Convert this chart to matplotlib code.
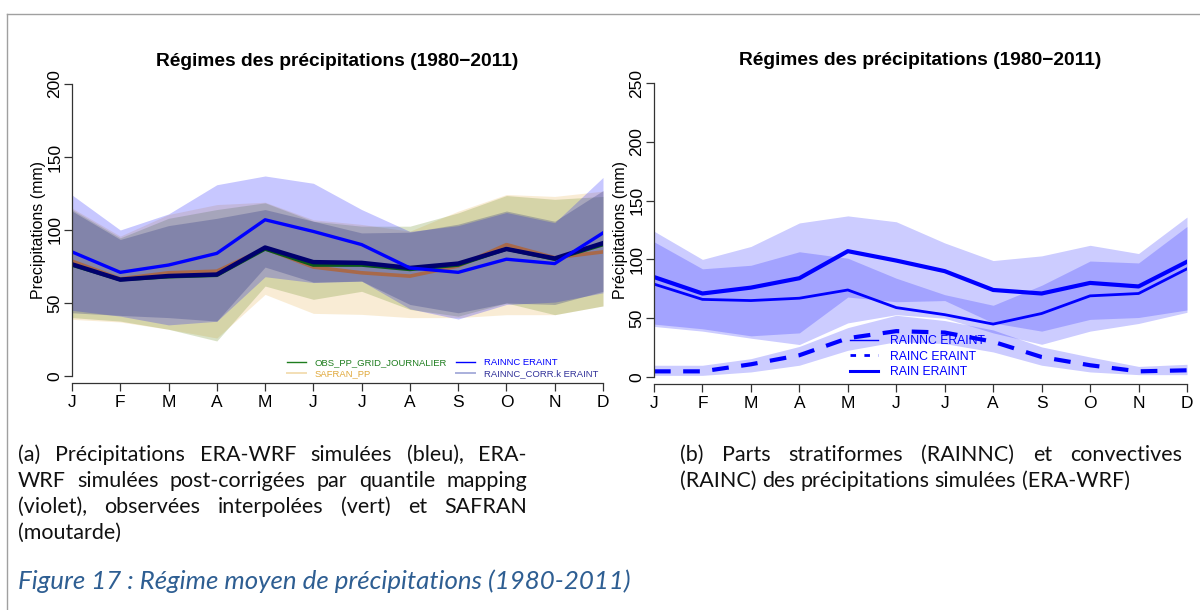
import numpy as np
import matplotlib
matplotlib.use("Agg")
import matplotlib.pyplot as plt
from matplotlib.lines import Line2D

months = ["J", "F", "M", "A", "M", "J", "J", "A", "S", "O", "N", "D"]

# left panel: monthly means and envelopes (mm)
rain_mean = [85, 71, 76, 84, 107, 99, 90, 74, 71, 80, 77, 98]
rain_low = [45, 41, 35, 37.5, 68, 64, 65, 46, 39, 49, 50.6, 57]
rain_high = [124, 100, 111, 131, 137, 132, 114, 99, 103, 112, 105, 136]

corr_mean = [76.5, 66, 68.5, 69.5, 88, 78, 77.5, 74, 77, 87, 80.5, 91]
corr_low = [43.3, 41.5, 40, 37.6, 74.6, 64.3, 65, 49, 43.3, 50, 49, 58]
corr_high = [113, 93.5, 103, 108, 114, 106, 98, 98.5, 104, 113, 106, 127]

obs_mean = [76, 66, 68, 69, 87, 76, 76, 73, 76, 87, 80, 90]
obs_low = [40, 37.6, 32, 24, 61.6, 52.5, 58, 45.6, 41, 50, 42, 48]
obs_high = [114, 94.6, 108, 114, 118.6, 106, 102.6, 102.6, 111.7, 123.6, 121, 123]

safran_mean = [78.7, 66.6, 70.7, 71.8, 87.3, 74.6, 70.7, 68.4, 75.3, 90, 81, 85]
safran_low = [38.8, 37, 32, 26, 55.9, 42.9, 42.2, 40, 40, 42, 42, 48]
safran_high = [115, 95.8, 110.6, 117.4, 119, 107, 103.8, 99.2, 112.9, 124.3, 123, 126.6]

# right panel: stratiform / convective parts
rainnc_mean = [79, 66, 65, 67, 74, 59, 53, 45, 54, 69, 71, 92]
rainnc_low = [43, 39, 33, 27.6, 46, 53, 50, 37.5, 27.8, 39, 45.5, 55]
rainnc_high = [115, 92, 95, 106.5, 101, 84, 70, 61, 78, 98.6, 97, 128]

rainc_mean = [4.8, 4.8, 10.8, 18.5, 33, 39, 37.8, 30, 17, 10, 4.8, 5.7]
rainc_low = [1.4, 1.4, 4.3, 10, 22.7, 30, 28.4, 21.3, 10, 4.3, 2, 2]
rainc_high = [10, 10, 15.6, 26, 42, 52.5, 48, 40, 25.6, 17, 9, 10.8]

W, H = 1200, 610
fig = plt.figure(figsize=(W / 100, H / 100), dpi=100)
plot_font = "Liberation Sans"


def px_axes(x0, x1, ytop, ybot):
    return fig.add_axes([x0 / W, (H - ybot) / H, (x1 - x0) / W, (ybot - ytop) / H])


def r_style(ax, ymax, step, ylabel):
    x = np.arange(12)
    ax.set_xlim(0, 11)
    ax.set_ylim(0, ymax)
    for s in ["top", "right"]:
        ax.spines[s].set_visible(False)
    ax.spines["bottom"].set_position(("outward", 5))
    ax.spines["left"].set_bounds(0, ymax)
    ax.spines["bottom"].set_bounds(0, 11)
    for s in ["left", "bottom"]:
        ax.spines[s].set_color("#333333")
        ax.spines[s].set_linewidth(0.9)
    ax.set_xticks(x)
    ax.set_xticklabels(months, fontfamily=plot_font, fontsize=12.5)
    ax.set_yticks(np.arange(0, ymax + 1, step))
    ax.set_yticklabels([str(v) for v in np.arange(0, ymax + 1, step)],
                       rotation=90, va="center", fontfamily=plot_font, fontsize=12.5)
    ax.tick_params(length=5.5, width=0.9, color="#333333", pad=1.5)
    ax.tick_params(axis="x", pad=3)
    ax.set_ylabel(ylabel, fontfamily=plot_font, fontsize=11.5, labelpad=1)
    ax.set_title("Régimes des précipitations (1980\u22122011)", fontfamily=plot_font,
                 fontweight="bold", fontsize=13.8, pad=13)
    ax.patch.set_visible(False)


x = np.arange(12)

# ---- left panel
ax1 = px_axes(72, 603, 84, 376)
r_style(ax1, 200, 50, "Precipitations (mm)")
ax1.fill_between(x, safran_low, safran_high, color="#f5deb3", alpha=0.55, lw=0)
ax1.fill_between(x, obs_low, obs_high, color="#6b8e23", alpha=0.25, lw=0)
ax1.fill_between(x, rain_low, rain_high, color="#0000ff", alpha=0.22, lw=0)
ax1.fill_between(x, corr_low, corr_high, color="#283080", alpha=0.28, lw=0)
ax1.plot(x, safran_mean, color="#a8694a", lw=2.6)
ax1.plot(x, obs_mean, color="#0a5a1a", lw=2.6)
ax1.plot(x, corr_mean, color="#00006e", lw=3.2)
ax1.plot(x, rain_mean, color="#0000ff", lw=2.4)

h1 = [Line2D([], [], color="#1e7d1e", lw=1),
      Line2D([], [], color="#f3dfb5", lw=1.4),
      Line2D([], [], color="#0000ff", lw=1),
      Line2D([], [], color="#aab0dc", lw=1.4)]
lab1 = ["OBS_PP_GRID_JOURNALIER", "SAFRAN_PP", "RAINNC ERAINT", "RAINNC_CORR.k ERAINT"]
leg1 = fig.legend(h1, lab1, ncol=2, loc="upper left", bbox_to_anchor=(287 / W, (H - 358) / H),
                  frameon=False, borderpad=0, borderaxespad=0, handlelength=2.0,
                  handletextpad=0.9, columnspacing=1.0, labelspacing=0.25,
                  prop={"family": plot_font, "size": 6.8},
                  labelcolor=["#1e7d1e", "#e0a83a", "#0000ff", "#32329a"])

# ---- right panel
ax2 = px_axes(654, 1187, 83, 377)
r_style(ax2, 250, 50, "Précipitations (mm)")
ax2.fill_between(x, rain_low, rain_high, color="#0000ff", alpha=0.2, lw=0)
ax2.fill_between(x, rainnc_low, rainnc_high, color="#0000ff", alpha=0.2, lw=0)
ax2.fill_between(x, rainc_low, rainc_high, color="#0000ff", alpha=0.2, lw=0)
ax2.plot(x, rain_mean, color="#0000ff", lw=3.0)
ax2.plot(x, rainnc_mean, color="#0000ff", lw=2.0)
ax2.plot(x, rainc_mean, color="#0000ff", lw=3.0, ls=(0, (4, 3)))

h2 = [Line2D([], [], color="#0000ff", lw=1),
      Line2D([], [], color="#0000ff", lw=2, ls=(0, (2, 3))),
      Line2D([], [], color="#0000ff", lw=2.2)]
leg2 = fig.legend(h2, ["RAINNC ERAINT", "RAINC ERAINT", "RAIN ERAINT"], loc="upper left",
                  bbox_to_anchor=(850 / W, (H - 335) / H), frameon=False, borderpad=0,
                  borderaxespad=0, handlelength=2.3, handletextpad=1.0, labelspacing=0.3,
                  prop={"family": plot_font, "size": 8.8}, labelcolor="#0000ff")

# ---- page frame
fig.add_artist(Line2D([7 / W, 1], [(H - 14) / H] * 2, color="#a0a0a0", lw=1))
fig.add_artist(Line2D([7 / W] * 2, [0, (H - 14) / H], color="#a0a0a0", lw=1))

# ---- captions
cap_font = "Lato"
renderer = fig.canvas.get_renderer()


def line_text(words_line, x0, y, x1=None, **kw):
    words = words_line.split()
    ts = [fig.text(0, (H - y) / H, w, va="center", ha="left", **kw) for w in words]
    ws = [t.get_window_extent(renderer).width for t in ts]
    sp = fig.text(0, 0, "a a", **kw)
    sa = fig.text(0, 0, "aa", **kw)
    space = sp.get_window_extent(renderer).width - sa.get_window_extent(renderer).width
    sp.remove()
    sa.remove()
    if x1 is not None and len(words) > 1:
        space = (x1 - x0 - sum(ws)) / (len(words) - 1)
    xx = x0
    for t, w in zip(ts, ws):
        t.set_x(xx / W)
        xx += w + space


cap = dict(fontfamily=cap_font, fontsize=15.5, color="#111111")
line_text("(a) Précipitations ERA-WRF simulées (bleu), ERA-", 18, 455, 527, **cap)
line_text("WRF simulées post-corrigées par quantile mapping", 18, 481, 527, **cap)
line_text("(violet), observées interpolées (vert) et SAFRAN", 18, 507, 527, **cap)
line_text("(moutarde)", 18, 533, **cap)
line_text("(b) Parts stratiformes (RAINNC) et convectives", 680, 455, 1182, **cap)
line_text("(RAINC) des précipitations simulées (ERA-WRF)", 680, 481, **cap)
fig.text(18 / W, (H - 581) / H, "Figure 17 : Régime moyen de précipitations (1980-2011)",
         fontfamily=cap_font, fontstyle="italic", fontsize=18.6, color="#2e5e92",
         va="center", ha="left")

fig.savefig("out.png", dpi=100)
